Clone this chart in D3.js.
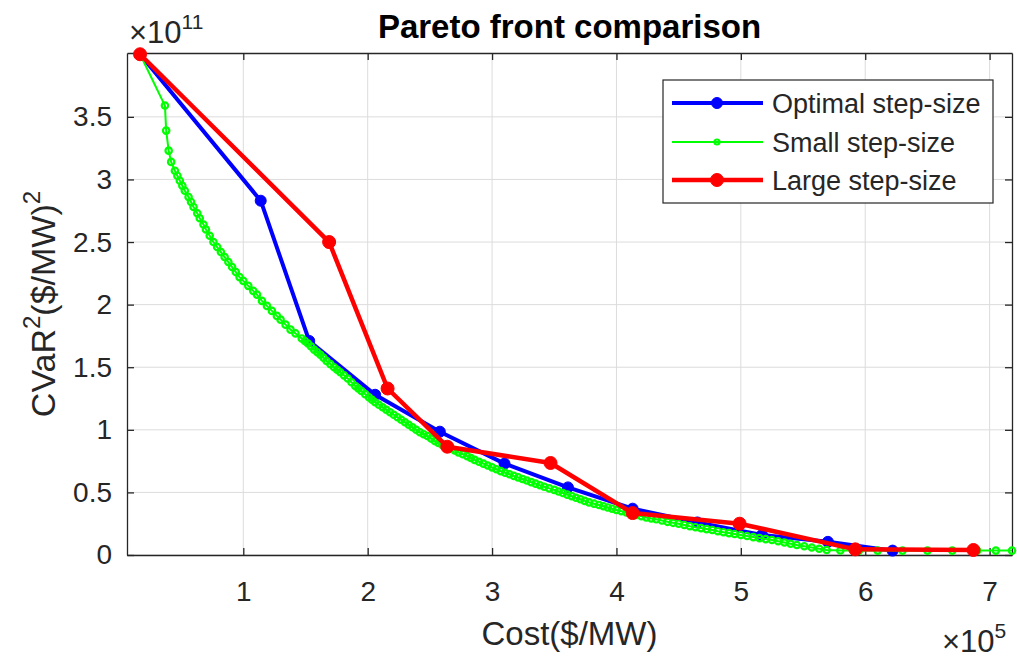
<!DOCTYPE html>
<html>
<head>
<meta charset="utf-8">
<script src="https://cdn.jsdelivr.net/npm/d3@7"></script>
<style>
  body { margin: 0; background: #fff; }
  text { font-family: "Liberation Sans", Arial, sans-serif; fill: #262626; }
</style>
</head>
<body>
<svg id="chart" width="1017" height="659"></svg>
<script>
/* DATA: cost in units of 1e5 $/MW, CVaR^2 in units of 1e11 */

const optimalCost = [0.17, 1.14, 1.53, 2.06, 2.58, 3.10, 3.61, 4.13, 4.65, 5.17, 5.70, 6.22];
const optimalCvar = [4.00, 2.83, 1.71, 1.28, 0.985, 0.73, 0.54, 0.37, 0.26, 0.16, 0.105, 0.035];

const largeCost = [0.17, 1.69, 2.16, 2.64, 3.47, 4.13, 4.99, 5.92, 6.87];
const largeCvar = [4.00, 2.50, 1.33, 0.865, 0.735, 0.335, 0.25, 0.045, 0.04];

// small step-size front, [cost, cvar] pairs
const smallFront = [
  [0.17, 4.00], [0.37, 3.59], [0.38, 3.39], [0.40, 3.23], [0.42, 3.14], [0.45, 3.07],
  [0.47, 3.03], [0.49, 2.99], [0.51, 2.95], [0.53, 2.91], [0.56, 2.86], [0.58, 2.82],
  [0.60, 2.78], [0.63, 2.73], [0.65, 2.69], [0.68, 2.64], [0.70, 2.60], [0.73, 2.55],
  [0.76, 2.50], [0.79, 2.46], [0.82, 2.42], [0.85, 2.38], [0.88, 2.34], [0.91, 2.30],
  [0.94, 2.26], [0.97, 2.22], [1.00, 2.19], [1.04, 2.15], [1.08, 2.11], [1.11, 2.08],
  [1.15, 2.03], [1.19, 1.99], [1.23, 1.95], [1.27, 1.91], [1.30, 1.88], [1.34, 1.84],
  [1.38, 1.80], [1.42, 1.77], [1.47, 1.73], [1.495, 1.71], [1.52, 1.69], [1.545, 1.665],
  [1.57, 1.64], [1.595, 1.62], [1.62, 1.60], [1.645, 1.575], [1.67, 1.55], [1.70, 1.525],
  [1.73, 1.50], [1.755, 1.48], [1.78, 1.46], [1.81, 1.435], [1.84, 1.41], [1.87, 1.38],
  [1.90, 1.35], [1.925, 1.33], [1.95, 1.31], [1.98, 1.285], [2.01, 1.26], [2.035, 1.24],
  [2.06, 1.22], [2.09, 1.20], [2.12, 1.18], [2.15, 1.16], [2.18, 1.14], [2.21, 1.12],
  [2.24, 1.10], [2.27, 1.08], [2.30, 1.06], [2.33, 1.04], [2.36, 1.02], [2.39, 1.00],
  [2.42, 0.98], [2.45, 0.965], [2.48, 0.95], [2.51, 0.93], [2.54, 0.91], [2.57, 0.895],
  [2.60, 0.88], [2.635, 0.865], [2.67, 0.85], [2.70, 0.835], [2.73, 0.82], [2.765, 0.805],
  [2.80, 0.79], [2.83, 0.775], [2.86, 0.76], [2.895, 0.745], [2.93, 0.73], [2.965, 0.715],
  [3.00, 0.70], [3.035, 0.685], [3.07, 0.67], [3.105, 0.657], [3.14, 0.645], [3.175, 0.632],
  [3.21, 0.62], [3.245, 0.607], [3.28, 0.595], [3.315, 0.582], [3.35, 0.57], [3.385, 0.557],
  [3.42, 0.545], [3.46, 0.532], [3.50, 0.52], [3.535, 0.507], [3.57, 0.495], [3.605, 0.482],
  [3.64, 0.47], [3.675, 0.457], [3.71, 0.445], [3.745, 0.432], [3.78, 0.42], [3.82, 0.41],
  [3.86, 0.40], [3.895, 0.39], [3.93, 0.38], [3.965, 0.37], [4.00, 0.36], [4.04, 0.35],
  [4.08, 0.34], [4.12, 0.33], [4.16, 0.32], [4.20, 0.31], [4.24, 0.30], [4.28, 0.292],
  [4.32, 0.285], [4.365, 0.275], [4.41, 0.265], [4.455, 0.257], [4.50, 0.25], [4.545, 0.24],
  [4.59, 0.23], [4.635, 0.222], [4.68, 0.215], [4.725, 0.207], [4.77, 0.20], [4.815, 0.19],
  [4.86, 0.182], [4.905, 0.175], [4.95, 0.168], [5.00, 0.16], [5.05, 0.152], [5.10, 0.143],
  [5.15, 0.135], [5.20, 0.127], [5.25, 0.12], [5.30, 0.11], [5.35, 0.10], [5.40, 0.09],
  [5.45, 0.08], [5.51, 0.07], [5.57, 0.06], [5.63, 0.05], [5.69, 0.04], [5.80, 0.036],
  [5.95, 0.035], [6.10, 0.035], [6.30, 0.035], [6.50, 0.035], [6.70, 0.035], [6.90, 0.035],
  [7.05, 0.035], [7.18, 0.035]
];

const xTicks = [1, 2, 3, 4, 5, 6, 7];
const yTicks = [0, 0.5, 1, 1.5, 2, 2.5, 3, 3.5];

const seriesNames = ["Optimal step-size", "Small step-size", "Large step-size"];
const seriesColors = ["#0000ff", "#00ff00", "#ff0000"];

/* LAYOUT */

const margin = {left: 127, right: 5, top: 53, bottom: 104};
const width = 1017, height = 659;
const plotWidth = width - margin.left - margin.right;
const plotHeight = height - margin.top - margin.bottom;

let svg = d3.select("svg#chart");
const plotArea = svg.append("g").attr("transform", "translate(" + margin.left + "," + margin.top + ")");

/* SCALES */

let costScale = d3.scaleLinear().domain([0.065, 7.18]).range([0, plotWidth]);
let cvarScale = d3.scaleLinear().domain([0, 4.01]).range([plotHeight, 0]);

/* GRID */

const grid = plotArea.append("g").attr("id", "grid");
grid.selectAll("line.gx").data(xTicks).join("line")
  .attr("x1", d => costScale(d)).attr("x2", d => costScale(d))
  .attr("y1", 0).attr("y2", plotHeight)
  .attr("stroke", "#dcdcdc").attr("stroke-width", 1);
grid.selectAll("line.gy").data(yTicks).join("line")
  .attr("y1", d => cvarScale(d)).attr("y2", d => cvarScale(d))
  .attr("x1", 0).attr("x2", plotWidth)
  .attr("stroke", "#dcdcdc").attr("stroke-width", 1);

/* AXES */

const axisColor = "#262626";

let xAxis = d3.axisBottom(costScale).tickValues(xTicks).tickSizeInner(-7).tickSizeOuter(0).tickPadding(26);
let yAxis = d3.axisLeft(cvarScale).tickValues(yTicks).tickSizeInner(-7).tickSizeOuter(0).tickPadding(15)
  .tickFormat(d3.format("~g"));
let xTop = d3.axisTop(costScale).tickValues(xTicks).tickSizeInner(-7).tickSizeOuter(0).tickFormat("");
let yRight = d3.axisRight(cvarScale).tickValues(yTicks).tickSizeInner(-7).tickSizeOuter(0).tickFormat("");

let xGroup = plotArea.append("g").attr("transform", "translate(0," + plotHeight + ")").call(xAxis);
let yGroup = plotArea.append("g").call(yAxis);
let xTopGroup = plotArea.append("g").call(xTop);
let yRightGroup = plotArea.append("g").attr("transform", "translate(" + plotWidth + ",0)").call(yRight);

[xGroup, yGroup, xTopGroup, yRightGroup].forEach(g => {
  g.select(".domain").attr("stroke", axisColor).attr("stroke-width", 1.3);
  g.selectAll(".tick line").attr("stroke", axisColor).attr("stroke-width", 1.3);
  g.selectAll(".tick text").attr("fill", axisColor)
    .style("font-family", "'Liberation Sans', Arial, sans-serif").style("font-size", "28px");
});
xGroup.selectAll(".tick text").attr("dy", "0.71em");

/* LINES */

function series(costs, cvars) {
  return costs.map((c, i) => [c, cvars[i]]);
}

const lineGen = d3.line().x(d => costScale(d[0])).y(d => cvarScale(d[1]));

const allSeries = [
  {pts: series(optimalCost, optimalCvar), color: seriesColors[0], lw: 4, r: 5.5, fill: true, mw: 1},
  {pts: smallFront, color: seriesColors[1], lw: 2, r: 3.2, fill: false, mw: 2.2},
  {pts: series(largeCost, largeCvar), color: seriesColors[2], lw: 4.5, r: 6.5, fill: true, mw: 1}
];

allSeries.forEach(s => {
  const g = plotArea.append("g");
  g.append("path").datum(s.pts)
    .attr("d", lineGen)
    .attr("fill", "none")
    .attr("stroke", s.color)
    .attr("stroke-width", s.lw)
    .attr("stroke-linejoin", "round");
  g.selectAll("circle").data(s.pts).join("circle")
    .attr("cx", d => costScale(d[0]))
    .attr("cy", d => cvarScale(d[1]))
    .attr("r", s.r)
    .attr("fill", s.fill ? s.color : "none")
    .attr("stroke", s.color)
    .attr("stroke-width", s.mw);
});

/* EXPONENTS */

const yExp = svg.append("text").attr("x", 129).attr("y", 43).style("font-size", "31px");
yExp.append("tspan").text("\u00d710");
yExp.append("tspan").attr("dy", -14).style("font-size", "21px").text("11");

const xExp = svg.append("text").attr("x", 942).attr("y", 652).style("font-size", "31px");
xExp.append("tspan").text("\u00d710");
xExp.append("tspan").attr("dy", -14).style("font-size", "21px").text("5");

/* TITLES */

svg.append("text")
  .attr("x", margin.left + plotWidth / 2).attr("y", 38)
  .attr("text-anchor", "middle")
  .style("font-size", "33px").style("font-weight", "bold")
  .style("fill", "#000")
  .text("Pareto front comparison");

svg.append("text")
  .attr("x", margin.left + plotWidth / 2).attr("y", 645)
  .attr("text-anchor", "middle")
  .style("font-size", "33px")
  .text("Cost($/MW)");

const yTitleGroup = svg.append("g").attr("transform", "translate(55," + (margin.top + plotHeight / 2) + ")");
const yTitle = yTitleGroup.append("text")
  .attr("text-anchor", "middle")
  .attr("transform", "rotate(-90)")
  .style("font-size", "34px");
yTitle.append("tspan").text("CVaR");
yTitle.append("tspan").attr("dy", -15).style("font-size", "24px").text("2");
yTitle.append("tspan").attr("dy", 15).text("($/MW)");
yTitle.append("tspan").attr("dy", -15).style("font-size", "24px").text("2");

/* LEGEND */

const legend = svg.append("g").attr("id", "legend");
legend.append("rect")
  .attr("x", 663).attr("y", 80).attr("width", 330).attr("height", 123)
  .attr("fill", "#fff").attr("stroke", axisColor).attr("stroke-width", 1.2);

const legendRows = [103, 142, 180];
allSeries.forEach((s, i) => {
  const y = legendRows[i];
  legend.append("line")
    .attr("x1", 672).attr("x2", 763).attr("y1", y).attr("y2", y)
    .attr("stroke", s.color).attr("stroke-width", s.lw);
  legend.append("circle")
    .attr("cx", 717).attr("cy", y).attr("r", s.fill ? s.r : 2.5)
    .attr("fill", s.fill ? s.color : "none")
    .attr("stroke", s.color).attr("stroke-width", s.mw);
  legend.append("text")
    .attr("x", 772).attr("y", y).attr("dy", "0.36em")
    .style("font-size", "27px")
    .text(seriesNames[i]);
});
</script>
</body>
</html>
